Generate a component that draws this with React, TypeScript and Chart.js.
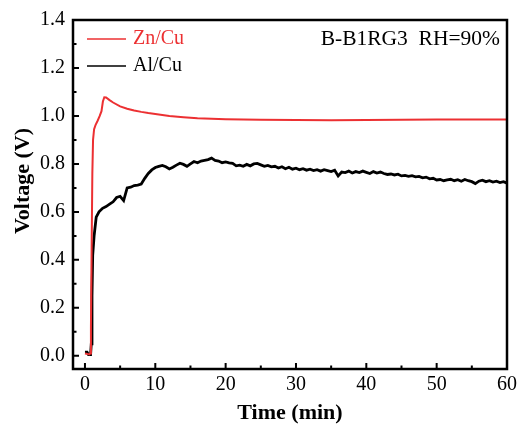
import React, { useEffect, useRef } from "react";
import { Chart, registerables } from "chart.js";

Chart.register(...registerables);

const FONT = "'Liberation Serif', 'Times New Roman', Times, serif";
const RED = "rgb(236, 48, 50)";
const BLACK = "#000000";

const xTicks = [0, 10, 20, 30, 40, 50, 60];
const xMinorTicks = [5, 15, 25, 35, 45, 55];
const yTicks = [0, 0.2, 0.4, 0.6, 0.8, 1.0, 1.2, 1.4];
const yMinorTicks = [0.1, 0.3, 0.5, 0.7, 0.9, 1.1, 1.3];

const seriesLabels = ["Zn/Cu", "Al/Cu"];
const annotationText = "B-B1RG3  RH=90%";

// Zn/Cu (red)
const znTime = [0, 0.3, 0.6, 0.75, 0.85, 0.95, 1.05, 1.15, 1.3, 1.5, 1.8, 2.1, 2.35, 2.55, 2.75, 3.0, 3.5, 4, 5, 6, 7, 8, 9, 10, 12, 14, 16, 18, 20, 25, 30, 35, 40, 45, 50, 55, 60];
const znVolt = [0.01, 0.008, 0.006, 0.01, 0.12, 0.45, 0.76, 0.9, 0.945, 0.962, 0.98, 1.0, 1.02, 1.06, 1.078, 1.077, 1.066, 1.056, 1.04, 1.03, 1.023, 1.017, 1.012, 1.008, 1.0, 0.995, 0.99, 0.988, 0.986, 0.984, 0.983, 0.982, 0.983, 0.984, 0.985, 0.985, 0.985];

// Al/Cu (black)
const alTime = [0, 0.3, 0.5, 0.8, 0.9, 1.0, 1.1, 1.3, 1.6, 2.0, 2.5,
  3.0, 3.5, 4.0, 4.5, 5.0, 5.5, 6.0, 6.5, 7.0, 7.5, 8.0, 8.5, 9.0, 9.5, 10.0, 10.5, 11.0, 11.5, 12.0, 12.5,
  13.0, 13.5, 14.0, 14.5, 15.0, 15.5, 16.0, 16.5, 17.0, 17.5, 18.0, 18.5, 19.0, 19.5, 20.0, 20.5, 21.0, 21.5,
  22.0, 22.5, 23.0, 23.5, 24.0, 24.5, 25.0, 25.5, 26.0, 26.5, 27.0, 27.5, 28.0, 28.5, 29.0, 29.5, 30.0, 30.5,
  31.0, 31.5, 32.0, 32.5, 33.0, 33.5, 34.0, 34.5, 35.0, 35.5, 36.0, 36.5, 37.0, 37.5, 38.0, 38.5, 39.0, 39.5,
  40.0, 40.5, 41.0, 41.5, 42.0, 42.5, 43.0, 43.5, 44.0, 44.5, 45.0, 45.5, 46.0, 46.5, 47.0, 47.5, 48.0, 48.5,
  49.0, 49.5, 50.0, 50.5, 51.0, 51.5, 52.0, 52.5, 53.0, 53.5, 54.0, 54.5, 55.0, 55.5, 56.0, 56.5, 57.0, 57.5,
  58.0, 58.5, 59.0, 59.5, 60.0];
const alVolt = [0.015, 0.015, 0.005, 0.005, 0.05, 0.25, 0.42, 0.5, 0.578, 0.6, 0.615,
  0.622, 0.632, 0.642, 0.66, 0.665, 0.647, 0.7, 0.703, 0.71, 0.712, 0.716, 0.74, 0.76, 0.775, 0.785, 0.79, 0.794, 0.788, 0.779, 0.786,
  0.795, 0.803, 0.798, 0.79, 0.8, 0.81, 0.805, 0.812, 0.815, 0.818, 0.824, 0.815, 0.812, 0.805, 0.808, 0.804, 0.802, 0.792,
  0.795, 0.79, 0.798, 0.792, 0.8, 0.802, 0.796, 0.79, 0.794, 0.788, 0.79, 0.783, 0.788, 0.78, 0.786, 0.778, 0.782, 0.776,
  0.78, 0.774, 0.778, 0.772, 0.776, 0.77, 0.776, 0.772, 0.768, 0.774, 0.75, 0.766, 0.764, 0.77, 0.762, 0.768, 0.764, 0.77,
  0.765, 0.76, 0.768, 0.762, 0.766, 0.76, 0.756, 0.758, 0.754, 0.757, 0.75, 0.752, 0.748, 0.751, 0.746, 0.748, 0.742, 0.745,
  0.738, 0.74, 0.733, 0.735, 0.73, 0.733, 0.736, 0.73, 0.734, 0.728, 0.735, 0.73, 0.726, 0.718, 0.728, 0.732, 0.726, 0.73,
  0.724, 0.728, 0.722, 0.726, 0.72];

const framePlugin = {
  id: "frame",
  afterDatasetsDraw(chart: any) {
    const { ctx, chartArea, scales } = chart;
    const { left, right, top, bottom } = chartArea;
    ctx.save();
    ctx.strokeStyle = "#000";
    // ticks inward
    ctx.lineWidth = 2;
    ctx.beginPath();
    xTicks.forEach((v) => {
      const x = scales.x.getPixelForValue(v);
      ctx.moveTo(x, bottom);
      ctx.lineTo(x, bottom - 6);
    });
    xMinorTicks.forEach((v) => {
      const x = scales.x.getPixelForValue(v);
      ctx.moveTo(x, bottom);
      ctx.lineTo(x, bottom - 3.5);
    });
    yTicks.forEach((v) => {
      const y = scales.y.getPixelForValue(v);
      ctx.moveTo(left, y);
      ctx.lineTo(left + 6, y);
    });
    yMinorTicks.forEach((v) => {
      const y = scales.y.getPixelForValue(v);
      ctx.moveTo(left, y);
      ctx.lineTo(left + 3.5, y);
    });
    ctx.stroke();
    // box
    ctx.lineWidth = 2.5;
    ctx.strokeRect(left, top, right - left, bottom - top);

    // legend
    const ds = chart.data.datasets;
    ctx.font = `20px ${FONT}`;
    ctx.textBaseline = "middle";
    ctx.textAlign = "left";
    ds.forEach((d: any, i: number) => {
      const y = top + 19 + i * 27;
      ctx.strokeStyle = d.borderColor;
      ctx.lineWidth = 1.5;
      ctx.beginPath();
      ctx.moveTo(left + 14, y);
      ctx.lineTo(left + 53, y);
      ctx.stroke();
      ctx.fillStyle = d.borderColor;
      ctx.fillText(d.label, left + 60, y);
    });

    // annotation
    ctx.fillStyle = "#000";
    ctx.textAlign = "right";
    ctx.font = `21.5px ${FONT}`;
    ctx.fillText(annotationText, right - 7, top + 19);

    // y title
    ctx.save();
    ctx.translate(23, 181);
    ctx.rotate(-Math.PI / 2);
    ctx.font = `bold 22px ${FONT}`;
    ctx.textAlign = "center";
    ctx.textBaseline = "middle";
    ctx.fillText("Voltage (V)", 0, 0);
    ctx.restore();
    ctx.restore();
  },
};

export default function App() {
  const ref = useRef<HTMLCanvasElement | null>(null);
  useEffect(() => {
    if (!ref.current) return;
    const chart = new Chart(ref.current, {
      type: "line",
      data: {
        datasets: [
          {
            label: seriesLabels[0],
            data: znTime.map((t, i) => ({ x: t, y: znVolt[i] })),
            borderColor: RED,
            backgroundColor: RED,
            borderWidth: 2,
            pointRadius: 0,
            tension: 0,
          },
          {
            label: seriesLabels[1],
            data: alTime.map((t, i) => ({ x: t, y: alVolt[i] })),
            borderColor: BLACK,
            backgroundColor: BLACK,
            borderWidth: 2.8,
            pointRadius: 0,
            tension: 0,
          },
        ],
      },
      options: {
        responsive: false,
        maintainAspectRatio: false,
        animation: false,
        layout: { padding: { top: 17, right: 10, left: 0, bottom: 0 } },
        plugins: { legend: { display: false }, tooltip: { enabled: false } },
        scales: {
          x: {
            type: "linear",
            min: -1.7,
            max: 60,
            grid: { display: false, drawTicks: false },
            border: { display: false },
            afterBuildTicks: (s: any) => {
              s.ticks = xTicks.map((v) => ({ value: v }));
            },
            afterFit: (s: any) => {
              s.height = 61;
            },
            ticks: {
              autoSkip: false,
              maxRotation: 0,
              padding: 4,
              color: "#000",
              font: { family: FONT, size: 20 },
              callback: (v: any) => String(v),
            },
            title: {
              display: true,
              text: "Time (min)",
              color: "#000",
              font: { family: FONT, size: 22, weight: "bold" },
              padding: { top: 0, bottom: 3 },
            },
          },
          y: {
            type: "linear",
            min: -0.055,
            max: 1.4,
            grid: { display: false, drawTicks: false },
            border: { display: false },
            afterBuildTicks: (s: any) => {
              s.ticks = yTicks.map((v) => ({ value: v }));
            },
            afterFit: (s: any) => {
              s.width = 73;
            },
            ticks: {
              autoSkip: false,
              padding: 8,
              color: "#000",
              font: { family: FONT, size: 20 },
              callback: (v: any) => Number(v).toFixed(1),
            },
          },
        },
      },
      plugins: [framePlugin],
    });
    return () => chart.destroy();
  }, []);
  return (
    <div style={{ position: "fixed", left: 0, top: 0, width: 521, height: 430, background: "#fff" }}>
      <canvas ref={ref} width={521} height={430} style={{ display: "block" }} />
    </div>
  );
}
